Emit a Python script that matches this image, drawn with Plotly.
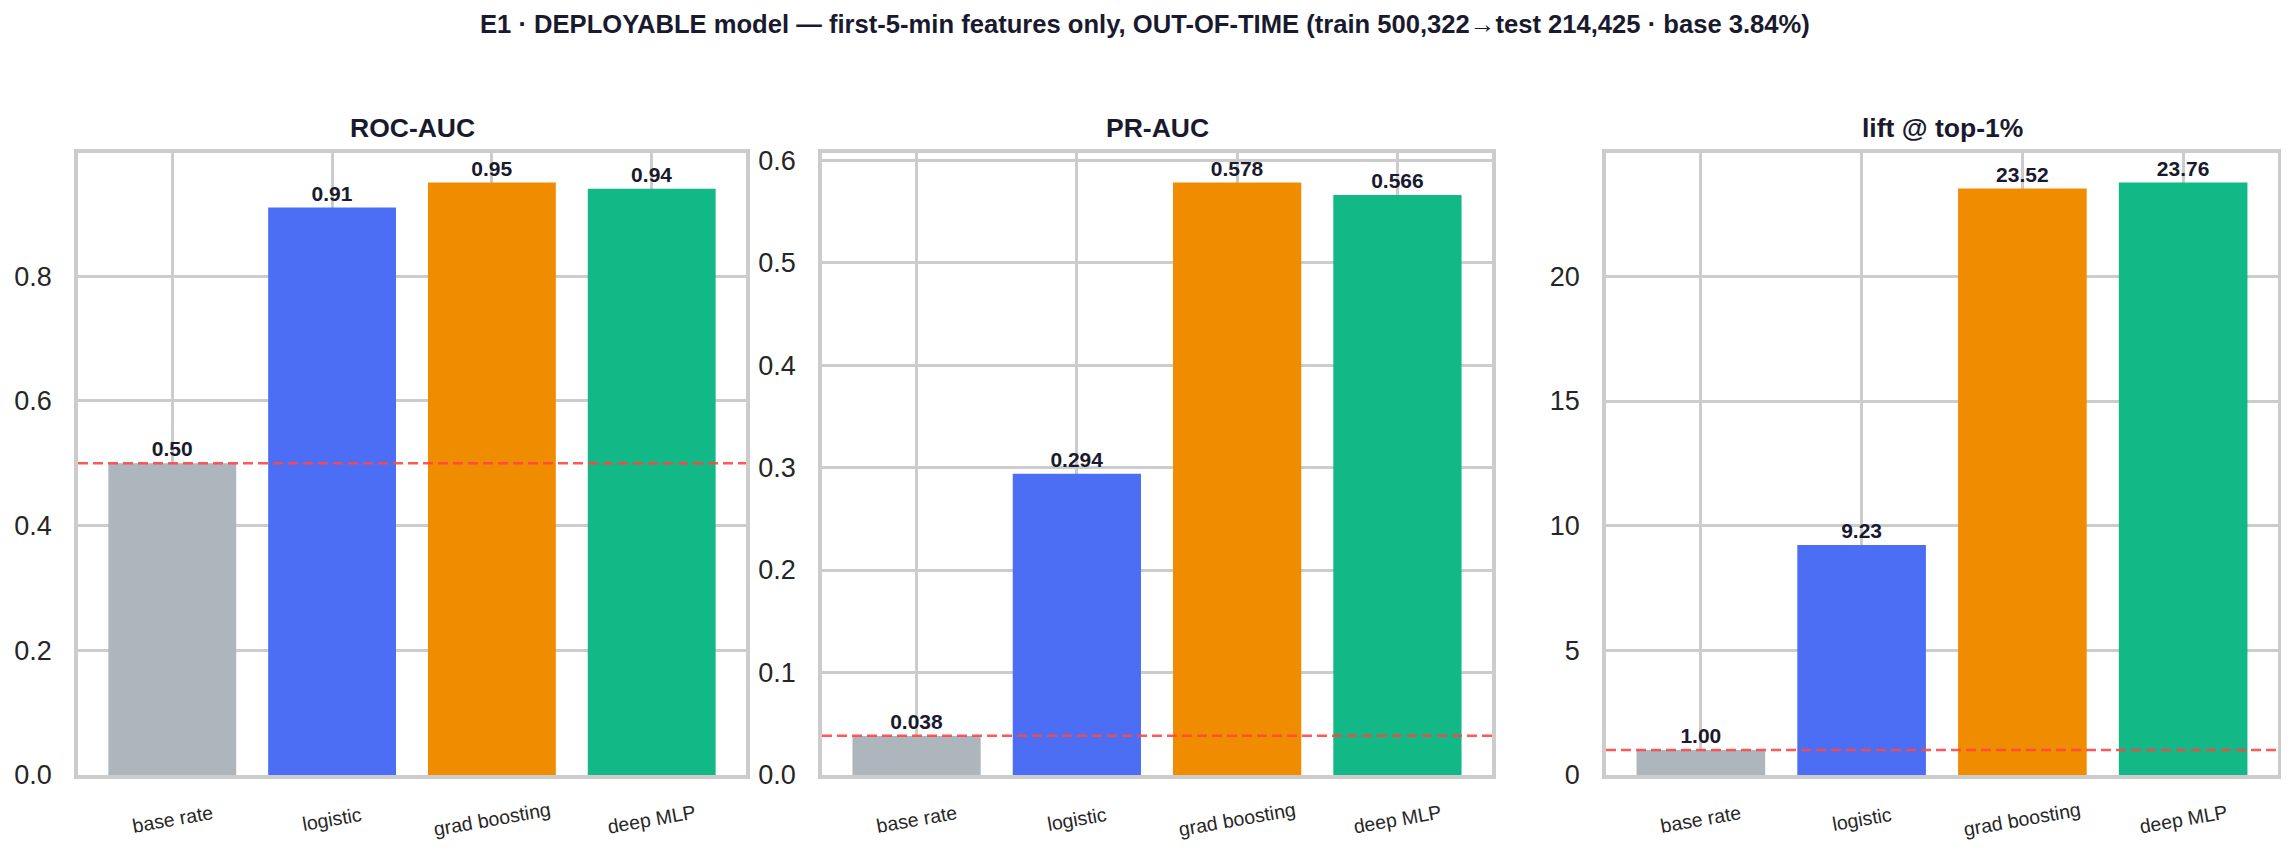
import plotly.graph_objects as go

categories = ["base rate", "logistic", "grad boosting", "deep MLP"]
roc_auc = [0.50, 0.91, 0.95, 0.94]
pr_auc = [0.038, 0.294, 0.578, 0.566]
lift_top1 = [1.00, 9.23, 23.52, 23.76]
baselines = [0.5, 0.0384, 1.0]
panel_titles = ["ROC-AUC", "PR-AUC", "lift @ top-1%"]
label_formats = ["%{y:.2f}", "%{y:.3f}", "%{y:.2f}"]
y_ranges = [[0, 0.9975], [0, 0.6069], [0, 24.948]]
y_dticks = [0.2, 0.1, 5]
y_formats = [".1f", ".1f", "d"]
suptitle = "E1 · DEPLOYABLE model — first-5-min features only, OUT-OF-TIME (train 500,322→test 214,425 · base 3.84%)"

bar_colors = ["#adb5bd", "#4c6ef5", "#f08c00", "#12b886"]
# page body has an 8px margin; size the figure to fit the window
OFF = 8
W, H = 2289 - 2 * OFF, 855 - 2 * OFF
FONT = "Liberation Sans, Arial, sans-serif"
TXT = "#1a1a2e"
GRID = "#cccccc"


def px_x(v):
    return (v - OFF) / W


def px_y(v):
    return 1 - (v - OFF) / H


x_domains = [[px_x(78), px_x(746)], [px_x(822), px_x(1492)], [px_x(1606), px_x(2278)]]
y_domain = [px_y(775), px_y(153)]

fig = go.Figure()
series = [roc_auc, pr_auc, lift_top1]
for i, vals in enumerate(series):
    xa = "x" if i == 0 else f"x{i+1}"
    ya = "y" if i == 0 else f"y{i+1}"
    fig.add_trace(go.Bar(
        x=list(range(len(categories))), y=vals, xaxis=xa, yaxis=ya,
        marker=dict(color=bar_colors, line=dict(width=0)),
        width=0.8,
        texttemplate=label_formats[i], textposition="outside",
        textfont=dict(family=FONT, size=21, color=TXT, weight="bold"),
        constraintext="none", cliponaxis=False, showlegend=False,
    ))
    axis_common = dict(showline=True, mirror=True, linecolor=GRID, linewidth=3.5,
                       showgrid=True, gridcolor=GRID, gridwidth=2.6, zeroline=False)
    xkey = "xaxis" if i == 0 else f"xaxis{i+1}"
    ykey = "yaxis" if i == 0 else f"yaxis{i+1}"
    fig.layout[xkey] = dict(domain=x_domains[i], anchor=ya, range=[-0.59, 3.59],
                            tickmode="array", tickvals=list(range(len(categories))),
                            showticklabels=False, ticks="", **axis_common)
    fig.layout[ykey] = dict(domain=y_domain, anchor=xa, range=y_ranges[i], dtick=y_dticks[i],
                            tick0=0, tickformat=y_formats[i], ticks="", ticklabelstandoff=17,
                            tickfont=dict(family=FONT, size=27, color="#262626"),
                            automargin=False, **axis_common)
    fig.add_shape(type="line", xref=f"{xa} domain", yref=ya, x0=0, x1=1,
                  y0=baselines[i], y1=baselines[i], layer="above",
                  line=dict(color="rgba(255,70,70,0.9)", width=2.5, dash="10px,5px"))
    # rotated category labels
    for j, c in enumerate(categories):
        fig.add_annotation(x=j, y=y_domain[0], xref=xa, yref="paper", text=c, showarrow=False,
                           textangle=-10, yshift=-44, xanchor="center", yanchor="middle",
                           font=dict(family=FONT, size=19.5, color="#262626"))
    fig.add_annotation(x=(x_domains[i][0] + x_domains[i][1]) / 2, y=y_domain[1], xref="paper", yref="paper",
                       text=f"<b>{panel_titles[i]}</b>", showarrow=False, xanchor="center",
                       yanchor="bottom", yshift=8,
                       font=dict(family=FONT, size=26.5, color=TXT))

fig.add_annotation(x=0.5, y=px_y(24), xref="paper", yref="paper", text=f"<b>{suptitle}</b>",
                   showarrow=False, xanchor="center", yanchor="middle",
                   font=dict(family=FONT, size=25.6, color=TXT))

fig.update_layout(width=W, height=H, margin=dict(l=0, r=0, t=0, b=0),
                  plot_bgcolor="white", paper_bgcolor="white", bargap=0.2)
fig.write_html("out.html")
